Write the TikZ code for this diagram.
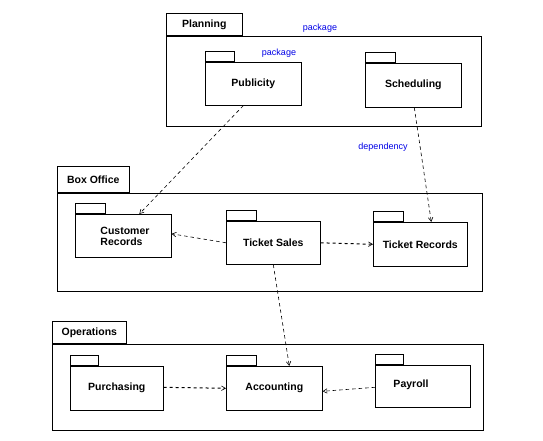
\documentclass[tikz,border=0pt]{standalone}
\usepackage{fontspec}
\setmainfont{Liberation Sans}
\usetikzlibrary{arrows.meta,calc}
\definecolor{lblblue}{RGB}{0,0,230}
\begin{document}
\begin{tikzpicture}[x=1pt,y=-1pt,
  line width=0.6pt,
  frame/.style={draw, rectangle, inner sep=0pt, anchor=north west},
  tabbox/.style={draw, rectangle, inner sep=0pt, anchor=south west, font=\fontsize{10.5}{12}\selectfont\bfseries},
  pkgbody/.style={draw, rectangle, inner sep=0pt, anchor=north west, align=center, font=\fontsize{10.5}{11}\selectfont\bfseries},
  pkgtab/.style={draw, rectangle, inner sep=0pt, anchor=south west, minimum height=10pt},
  pkgtext/.style={inner sep=0pt, font=\fontsize{10.5}{11}\selectfont\bfseries},
  note/.style={text=lblblue, inner sep=0pt, font=\fontsize{9}{10}\selectfont},
  dep/.style={draw, dash pattern=on 3.5pt off 3pt, -{Straight Barb[length=4pt,width=4.5pt]}},
  depthick/.style={draw, line width=1pt, dash pattern=on 3pt off 3pt, -{Straight Barb[length=4pt,width=4.5pt,line width=0.6pt]}}
]
\useasboundingbox (0,0) rectangle (543,441);

% ---------- Planning ----------
\node[frame, minimum width=315pt, minimum height=90pt] (planning) at (166,36) {};
\node[tabbox, minimum width=76pt, minimum height=22pt] (planningtab) at (166,36) {Planning};
\node[note] (pkglbl) at (320,28) {package};

\node[pkgbody, minimum width=96pt, minimum height=43pt] (pub) at (205,62) {Publicity};
\node[pkgtab, minimum width=29pt] (pubtab) at (pub.north west) {};
\node[note] (pkglbl2) at (279,53) {package};

\node[pkgbody, minimum width=96pt, minimum height=44pt] (sched) at (365,63) {Scheduling};
\node[pkgtab, minimum width=30pt] (schedtab) at (sched.north west) {};

\node[note] (deplbl) at (383,147) {dependency};

% ---------- Box Office ----------
\node[frame, minimum width=425pt, minimum height=98pt] (boxoffice) at (57,193) {};
\node[tabbox, minimum width=72pt, minimum height=26pt] (boxofficetab) at (57,193) {Box Office};

\node[pkgbody, minimum width=96pt, minimum height=43pt] (cust) at (75,214) {};
\node[pkgtab, minimum width=30pt] (custtab) at (cust.north west) {};
\node[pkgtext, align=left] (custtext) at (125,236) {Customer\\Records};

\node[pkgbody, minimum width=94pt, minimum height=43pt] (sales) at (226,221) {Ticket Sales};
\node[pkgtab, minimum width=30pt] (salestab) at (sales.north west) {};

\node[pkgbody, minimum width=94pt, minimum height=44pt] (trec) at (373,222) {Ticket Records};
\node[pkgtab, minimum width=30pt] (trectab) at (trec.north west) {};

% ---------- Operations ----------
\node[frame, minimum width=431pt, minimum height=86pt] (operations) at (52,344) {};
\node[tabbox, minimum width=74pt, minimum height=22pt] (operationstab) at (52,344) {Operations};

\node[pkgbody, minimum width=93pt, minimum height=44pt] (purch) at (70,366) {Purchasing};
\node[pkgtab, minimum width=28pt] (purchtab) at (purch.north west) {};

\node[pkgbody, minimum width=96pt, minimum height=44pt] (acct) at (226,366) {Accounting};
\node[pkgtab, minimum width=30pt] (accttab) at (acct.north west) {};

\node[pkgbody, minimum width=95pt, minimum height=42pt] (pay) at (375,365) {};
\node[pkgtab, minimum width=28pt] (paytab) at (pay.north west) {};
\node[pkgtext] (paytext) at (411,385) {Payroll};

% ---------- Dependencies ----------
\draw[dep] ([xshift=-10pt]pub.south) -- ([xshift=16pt]cust.north);
\draw[dep] ([xshift=1pt]sched.south) -- ([xshift=11pt]trec.north);
\draw[dep] (sales.west) -- ([yshift=2pt]cust.east);
\draw[depthick] (sales.east) -- (trec.west);
\draw[dep] (sales.south) -- ([xshift=15pt]acct.north);
\draw[depthick] ([yshift=1pt]purch.east) -- ([yshift=0pt]acct.west);
\draw[dep] ([yshift=-1pt]pay.west) -- ([yshift=-3pt]acct.east);
\end{tikzpicture}
\end{document}
